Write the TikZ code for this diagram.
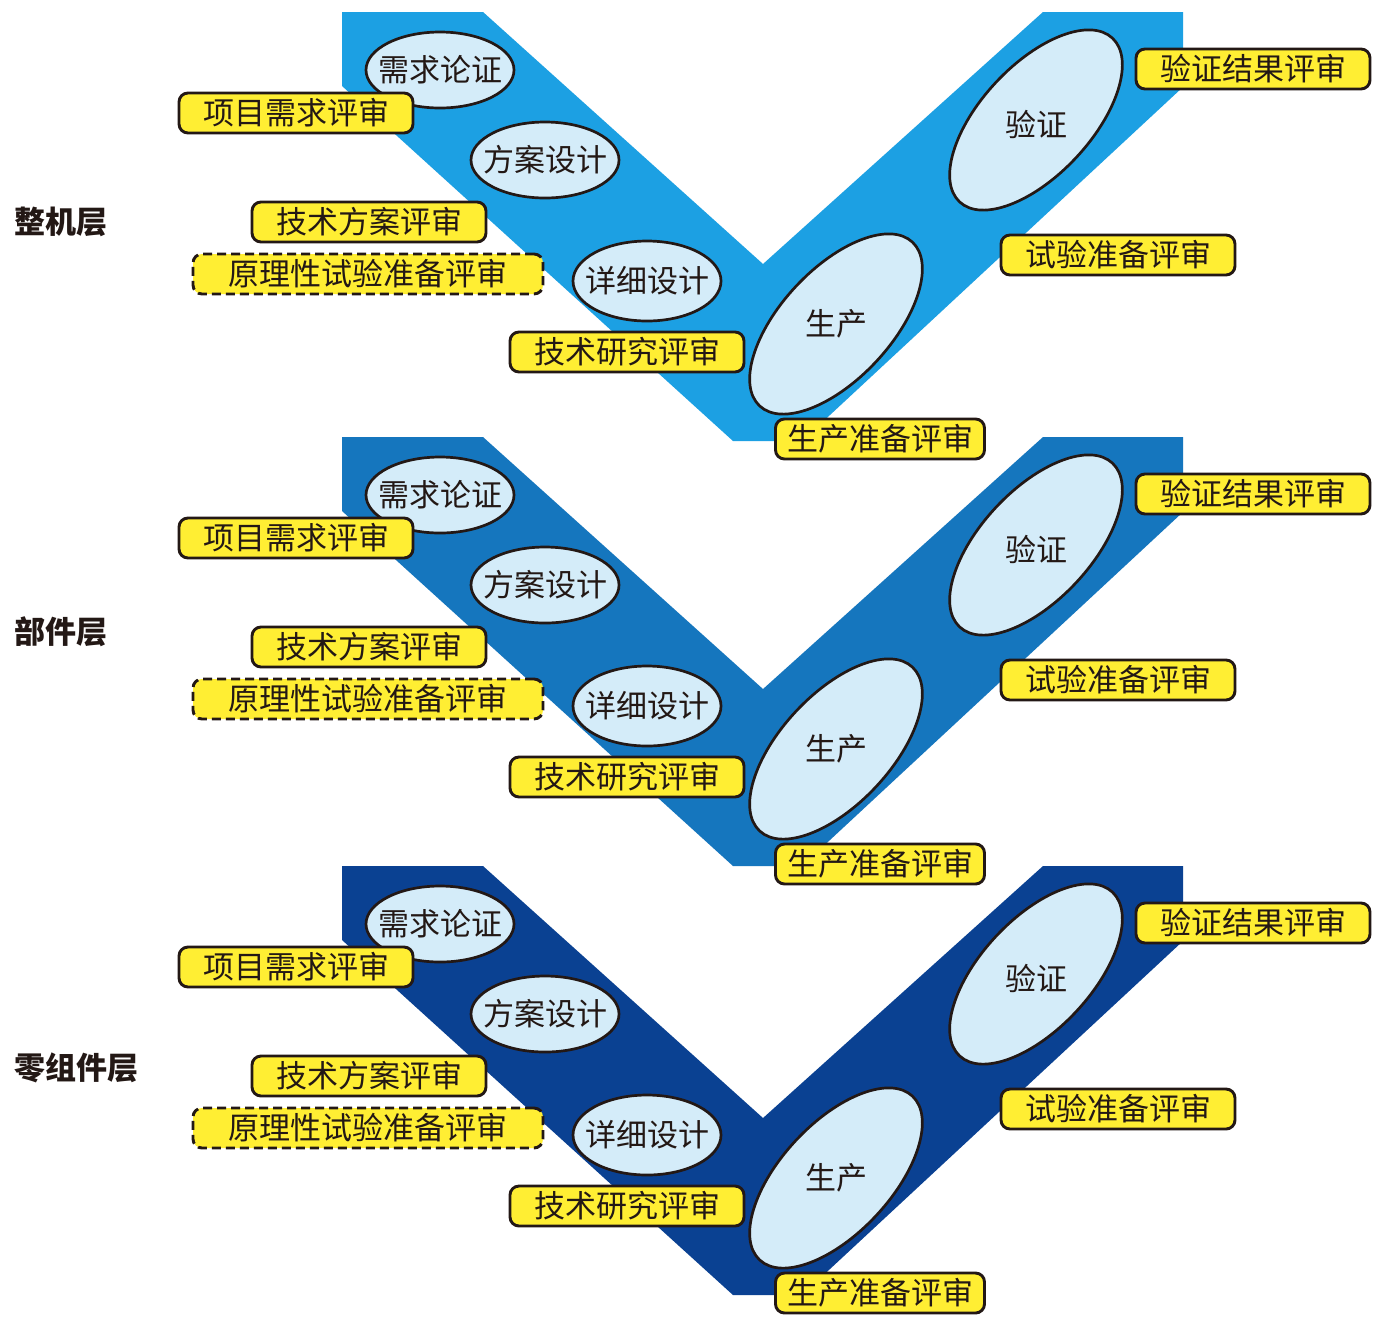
\documentclass[tikz,border=0pt]{standalone}
\usepackage{fontspec}
\setmainfont{Noto Sans CJK SC}
\usepackage{tikz}
\usetikzlibrary{shapes.geometric}
\usepackage{xcolor}
\definecolor{vone}{HTML}{1CA0E3}
\definecolor{vtwo}{HTML}{1576BE}
\definecolor{vthree}{HTML}{0A4192}
\definecolor{stagefill}{HTML}{D4ECF9}
\definecolor{reviewyellow}{HTML}{FFEE33}
\definecolor{inkline}{HTML}{231815}

\tikzset{
  stage/.style={ellipse, draw=inkline, fill=stagefill, line width=1.35pt, minimum width=74pt, minimum height=38pt, inner sep=0pt},
  longstage/.style={stage, rotate=47, minimum width=112pt, minimum height=55pt},
  stagetext/.style={text=inkline, inner sep=0pt, font=\fontsize{15.5pt}{18pt}\selectfont},
  review/.style={draw=inkline, fill=reviewyellow, rounded corners=4.5pt, line width=1.45pt, minimum width=117pt, minimum height=20pt, inner sep=0pt, text=inkline, font=\fontsize{15.5pt}{18pt}\selectfont},
  optreview/.style={review, dash pattern=on 4.5pt off 2.5pt, minimum width=175pt},
  layerlabel/.style={anchor=west, inner sep=0pt, text=inkline, font=\bfseries\fontsize{15.5pt}{18pt}\selectfont}
}

\begin{document}
\begin{tikzpicture}[x=0.5pt, y=-0.5pt]
  \path[use as bounding box, fill=white] (0,0) rectangle (1390,1324);

  % one V per layer
  \foreach \dy/\vcol/\ly/\layer [count=\k] in {0/vone/222/整机层, 425/vtwo/207/部件层, 854/vthree/214/零组件层} {
    \begin{scope}[shift={(0,\dy)}]
      \fill[\vcol] (342,12) -- (483,12) -- (763,264) -- (1043,12) -- (1183,12) -- (1183,87)
        -- (802,441) -- (733,441) -- (342,86) -- cycle;

      \node[layerlabel] (layer\k) at (14,\ly) {\layer};

      % stages
      \node[stage] (req\k) at (440,70) {};
      \node[stagetext] (req\k-t) at (req\k) {需求论证};
      \node[stage] (plan\k) at (545,160) {};
      \node[stagetext] (plan\k-t) at (plan\k) {方案设计};
      \node[stage, minimum height=40pt] (detail\k) at (647,281) {};
      \node[stagetext] (detail\k-t) at (detail\k) {详细设计};
      \node[longstage] (prod\k) at (836,324) {};
      \node[stagetext] (prod\k-t) at (prod\k) {生产};
      \node[longstage] (verif\k) at (1036,120) {};
      \node[stagetext] (verif\k-t) at ([yshift=-2pt]verif\k.center) {验证};

      % reviews
      \node[review] (rreq\k) at (296,113) {项目需求评审};
      \node[review] (rplan\k) at (369,222) {技术方案评审};
      \node[optreview] (rproto\k) at (368,274) {原理性试验准备评审};
      \node[review] (rtech\k) at (627,352) {技术研究评审};
      \node[review, minimum width=104.5pt] (rprod\k) at (880,439) {生产准备评审};
      \node[review] (rverif\k) at (1253,69) {验证结果评审};
      \node[review] (rtest\k) at (1118,255) {试验准备评审};
    \end{scope}
  }
\end{tikzpicture}
\end{document}
